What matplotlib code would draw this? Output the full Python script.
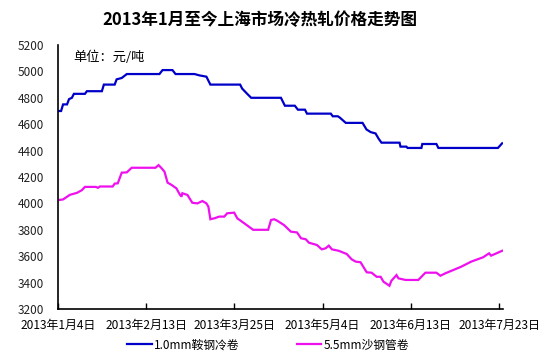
import matplotlib
matplotlib.use("Agg")
import matplotlib.pyplot as plt
from matplotlib.lines import Line2D

plt.rcParams['font.family'] = ['Noto Sans CJK SC', 'DejaVu Sans']

title = "2013年1月至今上海市场冷热轧价格走势图"
unit_text = "单位：元/吨"
series_names = ["1.0mm鞍钢冷卷", "5.5mm沙钢管卷"]

# day offsets from 2013-01-04
tick_days = [0, 40, 80, 120, 160, 200]
tick_labels = ["2013年1月4日", "2013年2月13日", "2013年3月25日",
               "2013年5月4日", "2013年6月13日", "2013年7月23日"]
y_ticks = [3200, 3400, 3600, 3800, 4000, 4200, 4400, 4600, 4800, 5000, 5200]

cold_days = [0, 1.4, 2.3, 4.1, 5, 6.3, 7.2, 12.2, 13.1, 19.9, 20.8, 25.7, 26.6, 28.9,
             31.2, 46, 47.4, 51.9, 53.3, 61.9, 64.1, 67.3, 69.1, 82.6, 83.5, 85.8, 87.6,
             101.1, 102.9, 107.4, 108.8, 112, 112.9, 123.7, 124.6, 126.9, 127.8, 130.5,
             138.1, 139.9, 141.8, 144, 145.4, 146.7, 154.9, 155.3, 158, 158.5, 164.8,
             165.2, 171.6, 172.5, 199.5, 201.4]
cold_vals = [4700, 4700, 4750, 4750, 4790, 4800, 4830, 4830, 4850, 4850, 4900, 4900, 4940, 4950,
             4980, 4980, 5010, 5010, 4980, 4980, 4970, 4960, 4900, 4900, 4870, 4830, 4800,
             4800, 4740, 4740, 4710, 4710, 4680, 4680, 4660, 4660, 4650, 4610,
             4610, 4560, 4540, 4530, 4490, 4460, 4460, 4430, 4430, 4420, 4420,
             4450, 4450, 4420, 4420, 4455]

hot_days = [0, 2.3, 5.4, 8.6, 10.8, 12.2, 17.2, 18.1, 19, 24.8, 25.7, 27.1, 28.9, 31.2,
            33.4, 44.2, 45.6, 47, 48.3, 49.7, 51.5, 53.7, 55.1, 56, 56.4, 58.7, 60.9,
            63.2, 65.5, 67.3, 68.2, 69.1, 70.9, 73.1, 75.4, 76.7, 79.9, 81.3, 84.4, 87.6,
            88.5, 95.3, 96.6, 98, 99.3, 102.5, 105.6, 108.4, 110.2, 112.4, 113.8, 117.4,
            119.6, 121.4, 122.8, 124.2, 127.3, 130.9, 133.2, 135, 137.2, 140, 142.2,
            144.5, 146.3, 147.6, 150.3, 151.2, 153.5, 154.4, 157.6, 163.4, 164.8, 166.6,
            171.6, 173.4, 175.6, 182.8, 187.4, 192.8, 195.5, 196.4, 201.4]
hot_vals = [4025, 4030, 4065, 4080, 4100, 4125, 4125, 4118, 4128, 4128, 4150, 4152, 4233, 4235,
            4270, 4270, 4290, 4266, 4240, 4157, 4140, 4114, 4071, 4051, 4077, 4064, 4005,
            4000, 4018, 4000, 3975, 3880, 3887, 3900, 3900, 3925, 3930, 3887, 3850, 3811,
            3800, 3800, 3874, 3880, 3870, 3836, 3786, 3780, 3736, 3728, 3702, 3685,
            3652, 3660, 3680, 3652, 3641, 3617, 3576, 3559, 3554, 3478, 3475,
            3444, 3444, 3407, 3376, 3414, 3457, 3432, 3420, 3420, 3444, 3475,
            3475, 3452, 3470, 3520, 3559, 3592, 3622, 3604, 3641]

colors = ['#0000C8', '#EE10EE']

fig = plt.figure(figsize=(5.55, 3.61), dpi=100)
ax = fig.add_axes([58/555, 52/361, 445/555, 264/361])

ax.plot(cold_days, cold_vals, color=colors[0], lw=1.6, solid_joinstyle='miter')
ax.plot(hot_days, hot_vals, color=colors[1], lw=1.6, solid_joinstyle='miter')

ax.set_xlim(0, 201.8)
ax.set_ylim(3200, 5200)
ax.set_xticks(tick_days)
ax.set_xticklabels(tick_labels, fontsize=8.6)
ax.set_yticks(y_ticks)
ax.set_yticklabels([str(v) for v in y_ticks], fontsize=8.5, color='#222222')
ax.tick_params(axis='x', direction='in', length=4, width=1, pad=7)
ax.tick_params(axis='y', length=0, pad=10)
for s in ['top', 'right']:
    ax.spines[s].set_visible(False)
for s in ['left', 'bottom']:
    ax.spines[s].set_linewidth(1.2)
    ax.spines[s].set_color('black')

fig.text(260/555, 1 - 20/361, title, ha='center', va='center', fontsize=12, fontweight='bold')
ax.text(0.035, 0.955, unit_text, transform=ax.transAxes, fontsize=9.5, ha='left', va='center')

handles = [Line2D([], [], color=c, lw=1.6) for c in colors]
fig.legend(handles, series_names, loc='center', bbox_to_anchor=(268/555, 1 - 345/361),
           ncol=2, frameon=False, fontsize=8.5, handlelength=2.1, handletextpad=0.15,
           columnspacing=4.85, borderpad=0, borderaxespad=0)

fig.savefig("out.png", dpi=100)
